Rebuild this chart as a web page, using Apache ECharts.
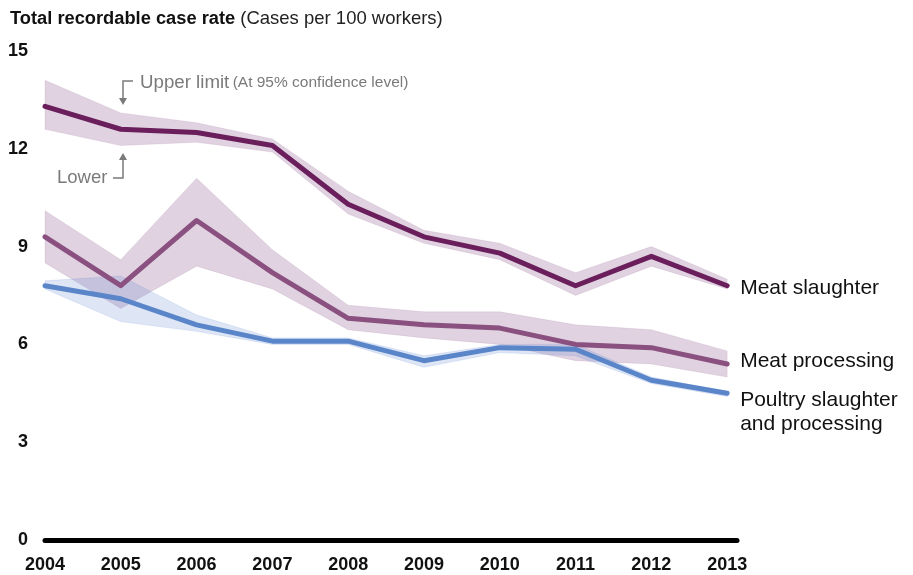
<!DOCTYPE html>
<html><head><meta charset="utf-8">
<script src="https://cdn.jsdelivr.net/npm/echarts@6/dist/echarts.min.js"></script>
<style>html,body{margin:0;padding:0;background:#fff}#c{width:913px;height:575px}</style>
</head><body><div id="c"></div>
<script>
const years = [2004,2005,2006,2007,2008,2009,2010,2011,2012,2013];
const yTicks = [0,3,6,9,12,15];
const slaughter      = [13.3,12.6,12.5,12.1,10.3,9.3,8.8,7.8,8.7,7.8];
const slaughterUpper = [14.1,13.1,12.8,12.3,10.7,9.5,9.1,8.2,9.0,8.0];
const slaughterLower = [12.6,12.1,12.2,11.9,10.0,9.1,8.6,7.5,8.4,7.7];
const processing      = [9.3,7.8,9.8,8.2,6.8,6.6,6.5,6.0,5.9,5.4];
const processingUpper = [10.1,8.6,11.1,8.9,7.2,7.0,7.0,6.6,6.45,5.8];
const processingLower = [8.5,7.1,8.4,7.7,6.45,6.2,6.0,5.5,5.4,5.0];
const poultry      = [7.8,7.4,6.6,6.1,6.1,5.5,5.9,5.85,4.9,4.5];
const poultryUpper = [7.95,8.1,6.9,6.2,6.2,5.65,6.0,6.0,5.0,4.55];
const poultryLower = [7.7,6.7,6.4,6.0,6.0,5.3,5.75,5.65,4.8,4.4];
const names = ['Meat slaughter','Meat processing','Poultry slaughter\nand processing'];

const FONT = '"Liberation Sans", Arial, sans-serif';
const pairs = arr => years.map((y,i)=>[y,arr[i]]);
function band(lower, upper, fill, stroke){
  return {type:'custom', silent:true, z:1,
    data: years.map((y,i)=>[y, lower[i], upper[i]]),
    renderItem:(params, api)=>{
      if (params.dataIndex !== 0) return null;
      const up = years.map((y,i)=>api.coord([y, upper[i]]));
      const lo = years.map((y,i)=>api.coord([y, lower[i]])).reverse();
      return {type:'polygon', shape:{points: up.concat(lo)},
        style:{fill, stroke, lineWidth:1}};
    }};
}
function main(name, data, color, offset){
  return {type:'line', name, data:pairs(data), symbol:'none', z:5,
    lineStyle:{color, width:5, cap:'round', join:'round'},
    endLabel:{show:true, formatter:'{a}', color:'#111', fontFamily:FONT, fontSize:21, lineHeight:24, distance:13, offset}};
}
const chart = echarts.init(document.getElementById('c'));
chart.setOption({
  animation:false,
  textStyle:{fontFamily:FONT},
  grid:{left:45, right:176, top:51, bottom:35},
  xAxis:{type:'value', min:2004, max:2013.13, interval:1,
    axisLine:{show:true, onZero:false, lineStyle:{color:'#000', width:5}},
    axisTick:{show:false}, splitLine:{show:false},
    axisLabel:{color:'#111', fontWeight:'bold', fontSize:18, fontFamily:FONT, margin:16,
      formatter:v=> years.includes(v) ? String(v) : ''}},
  yAxis:{type:'value', min:0, max:15, interval:3,
    axisLine:{show:false}, axisTick:{show:false}, splitLine:{show:false},
    axisLabel:{color:'#111', fontWeight:'bold', fontSize:18, fontFamily:FONT, margin:17,
      formatter:v=> yTicks.includes(v) ? String(v) : ''}},
  title:{left:5, top:4, text:'{b|Total recordable case rate} {n|(Cases per 100 workers)}',
    textStyle:{rich:{b:{fontWeight:'bold', fontSize:18.3, color:'#111', fontFamily:FONT},
                     n:{fontWeight:'normal', fontSize:18.5, color:'#222', fontFamily:FONT}}}},
  series:[
    band(slaughterLower, slaughterUpper, 'rgba(120,60,120,0.23)', 'rgba(120,60,120,0.1)'),
    band(processingLower, processingUpper, 'rgba(120,60,120,0.23)', 'rgba(120,60,120,0.1)'),
    band(poultryLower, poultryUpper, 'rgba(90,130,210,0.2)', 'rgba(90,130,210,0.15)'),
    main(names[0], slaughter, '#6a1f5c', [0,2]),
    main(names[1], processing, '#8a5080', [0,-3]),
    main(names[2], poultry, '#5a86c9', [0,19])
  ],
  graphic:[
    {type:'text', left:140, top:73, style:{text:'{a|Upper limit} {b|(At 95% confidence level)}',
      rich:{a:{fontSize:18.7, fill:'#7a7a7a', fontFamily:FONT}, b:{fontSize:15.5, fill:'#7a7a7a', fontFamily:FONT}}}},
    {type:'polyline', shape:{points:[[133,81],[123,81],[123,99]]}, style:{stroke:'#7a7a7a', lineWidth:1.5, fill:null}},
    {type:'polygon', shape:{points:[[119,98],[127,98],[123,105]]}, style:{fill:'#7a7a7a'}},
    {type:'text', left:57, top:168, style:{text:'Lower', fontSize:18.5, fill:'#7a7a7a', fontFamily:FONT}},
    {type:'polyline', shape:{points:[[113,178],[123,178],[123,159]]}, style:{stroke:'#7a7a7a', lineWidth:1.5, fill:null}},
    {type:'polygon', shape:{points:[[119,160],[127,160],[123,153]]}, style:{fill:'#7a7a7a'}}
  ]
});
</script></body></html>
